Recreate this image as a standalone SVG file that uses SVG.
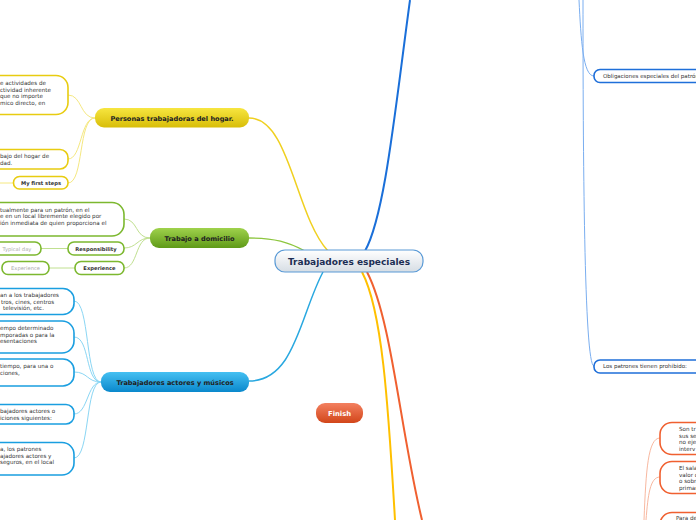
<svg xmlns="http://www.w3.org/2000/svg" width="696" height="520" viewBox="0 0 696 520">
<style>
text{font-family:"DejaVu Sans","Verdana",sans-serif;}
.main{font-size:6.6px;font-weight:bold;fill:#222;text-anchor:middle;}
.body{font-size:5.6px;fill:#333;}
.small{font-size:5.2px;font-weight:bold;fill:#333;text-anchor:middle;}
.grey{font-size:5.2px;fill:#aaa;text-anchor:middle;}
.sy{fill:#fff;stroke:#e8cc10;stroke-width:1.6;}
.sg{fill:#fff;stroke:#7cb82f;stroke-width:1.6;}
.sb{fill:#fff;stroke:#1a9ee0;stroke-width:1.6;}
.sd{fill:#fff;stroke:#1f6fd9;stroke-width:1.6;}
.so{fill:#fff;stroke:#f06030;stroke-width:1.6;}
.c{fill:none;}
</style>
<defs>
<linearGradient id="gc" x1="0" y1="0" x2="0" y2="1"><stop offset="0" stop-color="#ffffff"/><stop offset="1" stop-color="#d6dde4"/></linearGradient>
<linearGradient id="gy" x1="0" y1="0" x2="0" y2="1"><stop offset="0" stop-color="#f7e640"/><stop offset="1" stop-color="#d8bd08"/></linearGradient>
<linearGradient id="gg" x1="0" y1="0" x2="0" y2="1"><stop offset="0" stop-color="#9fd24c"/><stop offset="1" stop-color="#5f9a18"/></linearGradient>
<linearGradient id="gb" x1="0" y1="0" x2="0" y2="1"><stop offset="0" stop-color="#45c0f2"/><stop offset="1" stop-color="#0a88cc"/></linearGradient>
<linearGradient id="go" x1="0" y1="0" x2="0" y2="1"><stop offset="0" stop-color="#f38060"/><stop offset="1" stop-color="#d2461a"/></linearGradient>
</defs>

<g id="connectors">
  <path class="c" d="M365,251 C385,215 395,110 410,0" stroke="#1a6fd9" stroke-width="2"/>
  <path class="c" d="M249,118 C290,118 295,215 328,251" stroke="#f0d020" stroke-width="1.5"/>
  <path class="c" d="M249,238 C275,238 288,242 305,251" stroke="#8dc63f" stroke-width="1.3"/>
  <path class="c" d="M323,272 C300,315 295,381 249,381" stroke="#29a8e0" stroke-width="1.5"/>
  <path class="c" d="M362,272 C382,310 388,400 395,520" stroke="#ffc000" stroke-width="2"/>
  <path class="c" d="M367,272 C392,320 400,430 422,520" stroke="#f06030" stroke-width="2"/>
  <path class="c" d="M579,0 C581,40 583,76 594,76" stroke="#7aaef0" stroke-width="1"/>
  <path class="c" d="M583,0 C583,150 584,366 594,366" stroke="#7aaef0" stroke-width="1"/>
  <path class="c" d="M644,520 C646,470 648,438 660,438" stroke="#f8b8a0" stroke-width="1"/>
  <path class="c" d="M646,520 C648,495 650,477 660,477" stroke="#f8b8a0" stroke-width="1"/>
  <path class="c" d="M95,118 C80,118 82,95 68,95" stroke="#f5e880" stroke-width="1"/>
  <path class="c" d="M95,118 C80,118 82,159 68,159" stroke="#f5e880" stroke-width="1"/>
  <path class="c" d="M95,118 C78,118 84,183 68,183" stroke="#f5e880" stroke-width="1"/>
  <path class="c" d="M0,183 L13,183" stroke="#f5e880" stroke-width="1"/>
  <path class="c" d="M150,238 C135,238 138,219 124,219" stroke="#c0e090" stroke-width="1"/>
  <path class="c" d="M150,238 C137,238 137,248 124,248" stroke="#c0e090" stroke-width="1"/>
  <path class="c" d="M150,238 C135,238 138,268 124,268" stroke="#c0e090" stroke-width="1"/>
  <path class="c" d="M41,248.5 L68,248.5" stroke="#c0e090" stroke-width="1"/>
  <path class="c" d="M49,268 L75,268" stroke="#c0e090" stroke-width="1"/>
  <path class="c" d="M101,382 C85,382 90,301 74,301" stroke="#8ad6f4" stroke-width="1"/>
  <path class="c" d="M101,382 C85,382 90,337 74,337" stroke="#8ad6f4" stroke-width="1"/>
  <path class="c" d="M101,382 C87,382 88,372 74,372" stroke="#8ad6f4" stroke-width="1"/>
  <path class="c" d="M101,382 C87,382 88,414 74,414" stroke="#8ad6f4" stroke-width="1"/>
  <path class="c" d="M101,382 C85,382 90,458 74,458" stroke="#8ad6f4" stroke-width="1"/>
</g>

<g id="central">
  <rect x="275" y="250" width="148" height="22" rx="10" fill="url(#gc)" stroke="#5a9ad6" stroke-width="1.2"/>
  <text x="349" y="264.5" style="font-size:9px;font-weight:bold;fill:#1c2e54;text-anchor:middle">Trabajadores especiales</text>
</g>

<g id="personas">
  <rect x="95" y="108" width="154" height="19.5" rx="9" fill="url(#gy)"/>
  <text class="main" x="172" y="120.5">Personas trabajadoras del hogar.</text>
</g>
<g id="personas-1">
  <rect class="sy" x="-20" y="75.5" width="88" height="39" rx="12"/>
  <text class="body" x="0" y="85">e actividades de</text>
  <text class="body" x="0" y="91.5">ctividad inherente</text>
  <text class="body" x="0" y="98">que no importe</text>
  <text class="body" x="0" y="104.5">mico directo, en</text>
</g>
<g id="personas-2">
  <rect class="sy" x="-20" y="149.5" width="88" height="19.5" rx="8"/>
  <text class="body" x="0" y="158">bajo del hogar de</text>
  <text class="body" x="0" y="164.5">dad.</text>
</g>
<g id="personas-3">
  <rect class="sy" x="13.5" y="176.5" width="54.5" height="12.5" rx="6"/>
  <text class="small" x="41" y="184.8">My first steps</text>
</g>

<g id="domicilio">
  <rect x="150" y="228" width="99" height="20" rx="9" fill="url(#gg)"/>
  <text class="main" x="199.5" y="240.5">Trabajo a domicilio</text>
</g>
<g id="domicilio-1">
  <rect class="sg" x="-20" y="202.5" width="144" height="33.5" rx="12"/>
  <text class="body" x="0" y="211.5">tualmente para un patrón, en el</text>
  <text class="body" x="0" y="218">e en un local libremente elegido por</text>
  <text class="body" x="0" y="224.5">ión inmediata de quien proporciona el</text>
</g>
<g id="responsibility">
  <rect class="sg" x="68" y="242" width="56" height="13" rx="6"/>
  <text class="small" x="96" y="250.5">Responsibility</text>
</g>
<g id="typical-day">
  <rect class="sg" x="-14" y="242" width="55" height="13" rx="6"/>
  <text class="grey" x="17" y="250.5">Typical day</text>
</g>
<g id="experience">
  <rect class="sg" x="75" y="261.5" width="49" height="13" rx="6"/>
  <text class="small" x="99.5" y="270">Experience</text>
</g>
<g id="experience-2">
  <rect class="sg" x="2" y="261.5" width="47" height="13" rx="6"/>
  <text class="grey" x="25.5" y="270">Experience</text>
</g>

<g id="actores">
  <rect x="101" y="372" width="148" height="20" rx="9" fill="url(#gb)"/>
  <text class="main" x="175" y="384.5">Trabajadores actores y músicos</text>
</g>
<g id="actores-1">
  <rect class="sb" x="-20" y="288.5" width="94" height="26" rx="11"/>
  <text class="body" x="0" y="297">an a los trabajadores</text>
  <text class="body" x="1" y="303.5">tros, cines, centros</text>
  <text class="body" x="3" y="310">televisión, etc.</text>
</g>
<g id="actores-2">
  <rect class="sb" x="-20" y="321" width="94" height="32" rx="12"/>
  <text class="body" x="0" y="330">empo determinado</text>
  <text class="body" x="0" y="336.5">mporadas o para la</text>
  <text class="body" x="0" y="343">esentaciones</text>
</g>
<g id="actores-3">
  <rect class="sb" x="-20" y="359" width="94" height="27" rx="11"/>
  <text class="body" x="0" y="368">tiempo, para una o</text>
  <text class="body" x="0" y="374.5">ciones,</text>
</g>
<g id="actores-4">
  <rect class="sb" x="-20" y="404.5" width="94" height="19.5" rx="8"/>
  <text class="body" x="0" y="413">bajadores actores o</text>
  <text class="body" x="0" y="419.5">iciones siguientes:</text>
</g>
<g id="actores-5">
  <rect class="sb" x="-20" y="442.5" width="94" height="32.5" rx="12"/>
  <text class="body" x="0" y="451">a, los patrones</text>
  <text class="body" x="0" y="457.5">ajadores actores y</text>
  <text class="body" x="0" y="464">seguros, en el local</text>
</g>

<g id="finish">
  <rect x="316" y="403" width="47" height="20" rx="9" fill="url(#go)"/>
  <text x="339.5" y="415.5" style="font-size:6.8px;font-weight:bold;fill:#fff;text-anchor:middle">Finish</text>
</g>

<g id="obligaciones">
  <rect class="sd" x="594" y="69.5" width="130" height="13" rx="6"/>
  <text class="body" x="603" y="77.8" style="font-size:5.5px">Obligaciones especiales del patrón</text>
</g>
<g id="prohibido">
  <rect class="sd" x="594" y="360" width="130" height="13" rx="6"/>
  <text class="body" x="603" y="368.3" style="font-size:5.5px">Los patrones tienen prohibido:</text>
</g>

<g id="orange-1">
  <rect class="so" x="660" y="422.5" width="60" height="32" rx="12"/>
  <text class="body" x="679" y="431">Son tr</text>
  <text class="body" x="679" y="437.5">sus se</text>
  <text class="body" x="679" y="444">no eje</text>
  <text class="body" x="679" y="450.5">interv</text>
</g>
<g id="orange-2">
  <rect class="so" x="660" y="461.5" width="60" height="32" rx="12"/>
  <text class="body" x="679" y="470">El sala</text>
  <text class="body" x="679" y="476.5">valor d</text>
  <text class="body" x="679" y="483">o sobr</text>
  <text class="body" x="679" y="489.5">primar</text>
</g>
<g id="orange-3">
  <rect class="so" x="660" y="512.5" width="60" height="32" rx="12"/>
  <text class="body" x="676" y="520">Para de</text>
</g>
</svg>
